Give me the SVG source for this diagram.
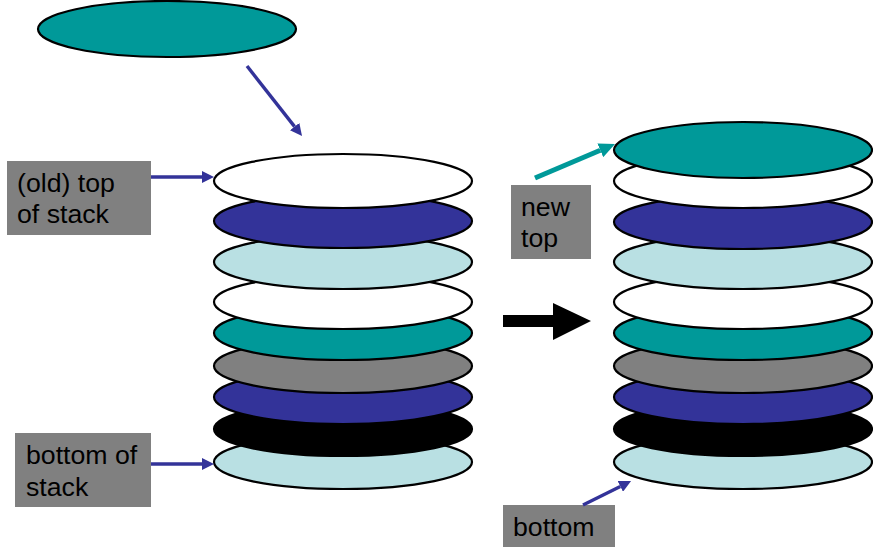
<svg xmlns="http://www.w3.org/2000/svg" width="873" height="558" viewBox="0 0 873 558">
<style>
.d{stroke:#000;stroke-width:2.2}
.w{fill:#fff}.n{fill:#333399}.l{fill:#b9e0e3}.t{fill:#009999}.g{fill:#808080}.k{fill:#000}
.box{fill:#808080}
.lbl{font-family:"Liberation Sans",Arial,sans-serif;font-size:26.7px;fill:#000}
.nav{stroke:#333399;stroke-width:3.4;fill:none}
.tea{stroke:#009999;stroke-width:5;fill:none}
</style>
<defs>
<marker id="hn" markerUnits="userSpaceOnUse" markerWidth="12" markerHeight="12" refX="0" refY="6" orient="auto"><path d="M0,0 L12,6 L0,12 z" fill="#333399"/></marker>
<marker id="ht" markerUnits="userSpaceOnUse" markerWidth="16" markerHeight="15" refX="0" refY="7.5" orient="auto"><path d="M0,0 L16,7.5 L0,15 z" fill="#009999"/></marker>
</defs>
<g id="new-disk"><ellipse class="d t" cx="167" cy="29" rx="129" ry="28"/></g>
<g id="left-stack">
<ellipse class="d l" cx="343" cy="462" rx="129" ry="27"/>
<ellipse class="d k" cx="343" cy="429" rx="129" ry="27"/>
<ellipse class="d n" cx="343" cy="397" rx="129" ry="27"/>
<ellipse class="d g" cx="343" cy="366" rx="129" ry="27"/>
<ellipse class="d t" cx="343" cy="333" rx="129" ry="27"/>
<ellipse class="d w" cx="343" cy="302" rx="129" ry="27"/>
<ellipse class="d l" cx="343" cy="262" rx="129" ry="27"/>
<ellipse class="d n" cx="343" cy="221" rx="129" ry="27"/>
<ellipse class="d w" cx="343" cy="181" rx="129" ry="27"/>
</g>
<g id="right-stack">
<ellipse class="d l" cx="743" cy="462" rx="129" ry="27"/>
<ellipse class="d k" cx="743" cy="429" rx="129" ry="27"/>
<ellipse class="d n" cx="743" cy="397" rx="129" ry="27"/>
<ellipse class="d g" cx="743" cy="366" rx="129" ry="27"/>
<ellipse class="d t" cx="743" cy="333" rx="129" ry="27"/>
<ellipse class="d w" cx="743" cy="302" rx="129" ry="27"/>
<ellipse class="d l" cx="743" cy="262" rx="129" ry="27"/>
<ellipse class="d n" cx="743" cy="222" rx="129" ry="27"/>
<ellipse class="d w" cx="743" cy="181" rx="129" ry="27"/>
<ellipse class="d t" cx="743" cy="150" rx="129" ry="28"/>
</g>
<g id="label-old-top">
<rect class="box" x="7" y="161" width="144" height="74"/>
<text class="lbl" x="17" y="192">(old) top</text>
<text class="lbl" x="17" y="223">of stack</text>
</g>
<g id="label-bottom-of-stack">
<rect class="box" x="15" y="433" width="136" height="74"/>
<text class="lbl" x="26" y="464">bottom of</text>
<text class="lbl" x="26" y="496">stack</text>
</g>
<g id="label-new-top">
<rect class="box" x="511" y="185" width="80" height="74"/>
<text class="lbl" x="521" y="216">new</text>
<text class="lbl" x="521" y="247">top</text>
</g>
<g id="label-bottom">
<rect class="box" x="503" y="505" width="112" height="42"/>
<text class="lbl" x="513" y="536">bottom</text>
</g>
<g id="connectors">
<line class="nav" x1="247" y1="66" x2="294.6" y2="126.6" marker-end="url(#hn)"/>
<line class="nav" x1="151" y1="177" x2="202" y2="177" marker-end="url(#hn)"/>
<line class="nav" x1="151" y1="464" x2="202" y2="464" marker-end="url(#hn)"/>
<line class="nav" x1="583" y1="505" x2="620.3" y2="486.4" marker-end="url(#hn)"/>
<line class="tea" x1="535" y1="178" x2="600.3" y2="150.3" marker-end="url(#ht)"/>
<polygon id="transition-arrow" points="503,315 553,315 553,303 591,321 553,340 553,327 503,327" fill="#000"/>
</g>
</svg>
